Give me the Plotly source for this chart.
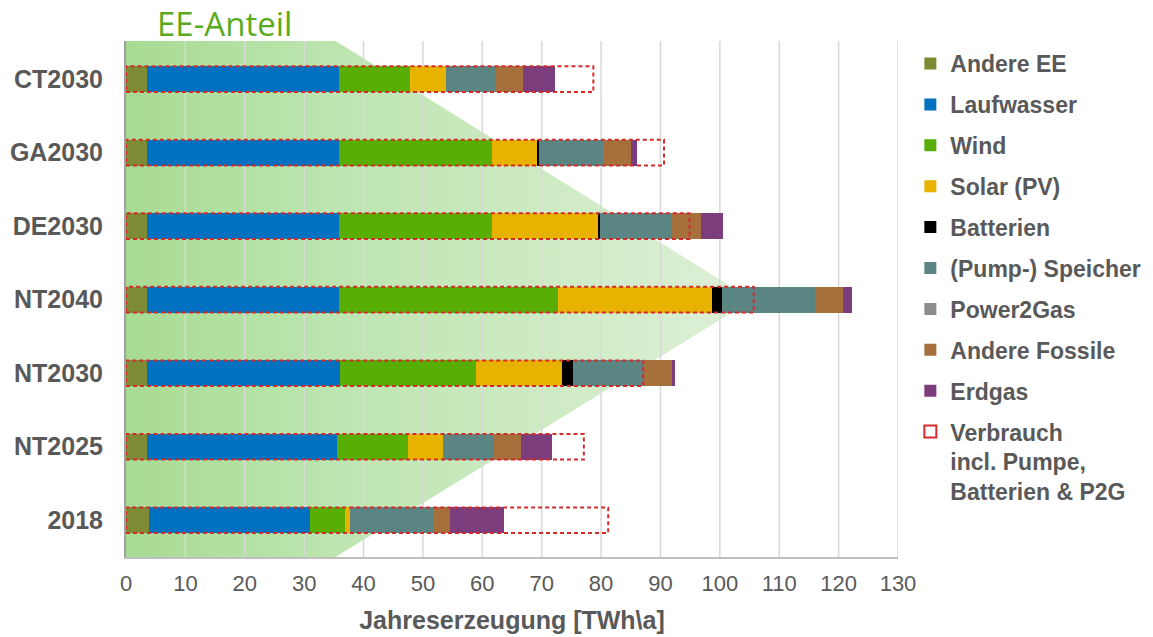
import plotly.graph_objects as go

# ---------------- data ----------------
categories = ["CT2030", "GA2030", "DE2030", "NT2040", "NT2030", "NT2025", "2018"]
andere_ee = [3.5, 3.5, 3.5, 3.5, 3.5, 3.5, 3.8]
laufwasser = [32.3, 32.3, 32.3, 32.3, 32.5, 32.0, 27.1]
wind = [12.1, 25.9, 25.9, 37.0, 23.0, 12.0, 6.0]
solar = [6.0, 7.6, 17.9, 25.9, 14.5, 5.9, 0.9]
batterien = [0.0, 0.3, 0.3, 1.7, 1.7, 0.0, 0.0]
speicher = [8.4, 10.8, 12.1, 15.7, 11.9, 8.5, 14.0]
power2gas = [0.0, 0.0, 0.0, 0.0, 0.0, 0.0, 0.0]
andere_fossile = [4.6, 4.7, 4.9, 4.7, 4.8, 4.6, 2.7]
erdgas = [5.4, 1.0, 3.7, 1.4, 0.6, 5.3, 9.1]
verbrauch = [78.7, 90.6, 94.9, 105.7, 87.1, 77.1, 81.2]

series_names = ["Andere EE", "Laufwasser", "Wind", "Solar (PV)", "Batterien",
                "(Pump-) Speicher", "Power2Gas", "Andere Fossile", "Erdgas"]
series_values = [andere_ee, laufwasser, wind, solar, batterien,
                 speicher, power2gas, andere_fossile, erdgas]
series_colors = ["#7f8a34", "#0070c0", "#58ae04", "#e8b200", "#000000",
                 "#5b8583", "#8c8c8c", "#a5703c", "#7b3d7b"]
verbrauch_name = "Verbrauch<br>incl. Pumpe,<br>Batterien & P2G"

x_ticks = list(range(0, 131, 10))
ee_edge = 35.3      # EE-Anteil band edge at top / bottom
ee_peak = 105.5     # EE-Anteil band apex
ee_peak_cat = "NT2040"

# ---------------- layout helpers ----------------
n = len(categories)
ypos = [n - 1 - i for i in range(n)]
y_lo, y_hi = -0.5, n - 0.48
bar_w = 0.35
grey = "#595959"

fig = go.Figure()

# EE-Anteil background band (base axes, behind bars)
peak_y = ypos[categories.index(ee_peak_cat)]
fig.add_trace(go.Scatter(
    x=[0, ee_edge, ee_peak, ee_edge, 0, 0],
    y=[y_hi, y_hi, peak_y, y_lo, y_lo, y_hi],
    mode="lines", line=dict(width=0), fill="toself",
    fillgradient=dict(type="horizontal",
                      colorscale=[[0, "#a7db93"], [0.33, "#bde5b0"], [1, "#def0d7"]]),
    hoverinfo="skip", showlegend=False, xaxis="x", yaxis="y"))

# grid lines (drawn above the band)
gx, gy = [], []
for t in x_ticks[1:]:
    gx += [t, t, None]
    gy += [y_lo, y_hi, None]
fig.add_trace(go.Scatter(x=gx, y=gy, mode="lines",
                         line=dict(color="#d9d9d9", width=1.5),
                         hoverinfo="skip", showlegend=False, xaxis="x", yaxis="y"))

# stacked bars on overlay axes
for name, vals, col in zip(series_names, series_values, series_colors):
    fig.add_trace(go.Bar(
        y=ypos, x=vals, orientation="h", name=f"<b>{name}</b>", width=bar_w,
        marker=dict(color=col, line=dict(width=0)),
        legendgroup=name, xaxis="x2", yaxis="y2"))

# Verbrauch dashed boxes
for i, v in enumerate(verbrauch):
    fig.add_shape(type="rect", xref="x", yref="y",
                  x0=0, x1=v, y0=ypos[i] - bar_w / 2, y1=ypos[i] + bar_w / 2,
                  line=dict(color="#d42a2a", width=2, dash="4px,3px"),
                  fillcolor="rgba(0,0,0,0)", layer="above",
                  showlegend=(i == 0), name=f"<b>{verbrauch_name}</b>",
                  legendgroup="verbrauch", legendrank=2000)

fig.add_annotation(text="EE-Anteil", xref="x", yref="paper",
                   x=16.6, y=1.033, yanchor="middle", showarrow=False,
                   font=dict(family="Open Sans, sans-serif", size=33, color="#5aaa1e"))

xaxis_common = dict(range=[0, 130], fixedrange=True)
fig.update_layout(
    width=1153, height=637,
    margin=dict(l=126, r=255, t=41, b=80, autoexpand=False),
    paper_bgcolor="white", plot_bgcolor="white",
    barmode="stack", bargap=0,
    font=dict(family="Liberation Sans, Arial, sans-serif", color=grey),
    xaxis=dict(**xaxis_common, tickvals=x_ticks, showgrid=False, zeroline=False,
               showline=True, linecolor="#bfbfbf", linewidth=2,
               tickfont=dict(size=22, color=grey), ticks="", ticklabelstandoff=6,
               title=dict(text="<b>Jahreserzeugung [TWh\\a]</b>", font=dict(size=25, color=grey),
                          standoff=16)),
    yaxis=dict(range=[y_lo, y_hi], tickvals=ypos, ticktext=[f"<b>{c}</b>" for c in categories],
               showgrid=False, zeroline=False, showline=True, linecolor="#a0a0a0",
               linewidth=2, ticks="", ticklabelstandoff=16,
               tickfont=dict(size=25, color=grey)),
    xaxis2=dict(**xaxis_common, overlaying="x", visible=False),
    yaxis2=dict(range=[y_lo, y_hi], overlaying="y", visible=False),
    legend=dict(x=1.016, xanchor="left", y=0.998, yanchor="top",
                traceorder="grouped", tracegroupgap=8, valign="top",
                font=dict(size=23, color=grey), itemclick=False),
    showlegend=True,
)

fig.write_html("out.html")
